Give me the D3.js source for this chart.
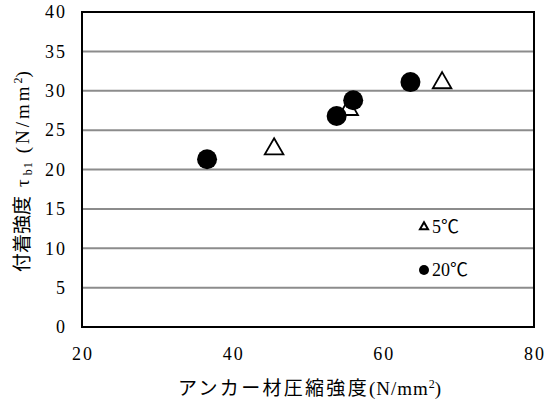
<!DOCTYPE html>
<html>
<head>
<meta charset="utf-8" />
<style>
  body { margin: 0; background: white; }
  svg { display: block; font-family: "Liberation Serif", "Noto Sans CJK JP", serif; }
</style>
<script src="https://cdnjs.cloudflare.com/ajax/libs/d3/7.8.5/d3.min.js"></script>
</head>
<body>
<div id="chart"></div>
<script>
// data
var xTicks = [20, 40, 60, 80];
var yTicks = [0, 5, 10, 15, 20, 25, 30, 35, 40];
var temp5X = [45.5, 55.4, 67.8];
var temp5Y = [22.6, 27.6, 31.0];
var temp20X = [36.6, 53.8, 56.0, 63.6];
var temp20Y = [21.3, 26.8, 28.8, 31.1];
var legendLabels = ["5℃", "20℃"];

var w = 551, h = 403;
var plotLeft = 82, plotRight = 534, plotTop = 12, plotBottom = 327;

var x = d3.scaleLinear().domain([20, 80]).range([plotLeft, plotRight]);
var y = d3.scaleLinear().domain([0, 40]).range([plotBottom, plotTop]);

var svg = d3.select("#chart").append("svg")
    .attr("width", w)
    .attr("height", h);

// gridlines
svg.append("g")
  .selectAll("line")
  .data(yTicks.slice(1, -1))
  .enter().append("line")
    .attr("x1", plotLeft).attr("x2", plotRight)
    .attr("y1", function (d) { return y(d); })
    .attr("y2", function (d) { return y(d); })
    .style("stroke", "#8c8c8c")
    .style("stroke-width", 2);

// plot border
svg.append("rect")
  .attr("x", plotLeft).attr("y", plotTop)
  .attr("width", plotRight - plotLeft).attr("height", plotBottom - plotTop)
  .style("fill", "none")
  .style("stroke", "black")
  .style("stroke-width", 2);

// y tick labels
svg.append("g")
  .selectAll("text")
  .data(yTicks)
  .enter().append("text")
    .attr("x", plotLeft - 15)
    .attr("y", function (d) { return y(d); })
    .attr("dy", "0.35em")
    .attr("text-anchor", "end")
    .style("font-size", "18px")
    .style("letter-spacing", "2px")
    .text(function (d) { return d; });

// x tick labels
svg.append("g")
  .selectAll("text")
  .data(xTicks)
  .enter().append("text")
    .attr("x", function (d) { return x(d) + 1; })
    .attr("y", 360)
    .attr("text-anchor", "middle")
    .style("font-size", "18px")
    .style("letter-spacing", "2px")
    .text(function (d) { return d; });

// x title
var xt = svg.append("text")
  .attr("x", 178).attr("y", 395)
  .style("font-size", "19px");
xt.append("tspan").style("letter-spacing", "2.3px").text("アンカー材圧縮強度");
xt.append("tspan").style("letter-spacing", "1px").text("(N/mm");
xt.append("tspan").attr("dy", -7).style("font-size", "12px").text("2");
xt.append("tspan").attr("dy", 7).text(")");

// y title
var yt = svg.append("text")
  .attr("transform", "translate(29,272) rotate(-90)")
  .style("font-size", "19px");
yt.append("tspan").text("付着強度");
yt.append("tspan").attr("dx", 9).text("τ");
yt.append("tspan").attr("dx", 4).attr("dy", 3).style("font-size", "12px").style("letter-spacing", "1px").text("b1");
yt.append("tspan").attr("dx", 8).attr("dy", -3).style("letter-spacing", "3px").text("(N/mm");
yt.append("tspan").attr("dy", -7).style("font-size", "12px").text("2");
yt.append("tspan").attr("dy", 7).text(")");

// 5℃ triangles
var tri = d3.symbol().type(d3.symbolTriangle).size(150);
svg.append("g")
  .selectAll("path")
  .data(temp5X)
  .enter().append("path")
    .attr("d", tri)
    .attr("transform", function (d, i) { return "translate(" + x(d) + "," + y(temp5Y[i]) + ")"; })
    .style("fill", "white")
    .style("stroke", "black")
    .style("stroke-width", 1.8);

// 20℃ circles
svg.append("g")
  .selectAll("circle")
  .data(temp20X)
  .enter().append("circle")
    .attr("cx", function (d) { return x(d); })
    .attr("cy", function (d, i) { return y(temp20Y[i]); })
    .attr("r", 10)
    .style("fill", "black");

// legend
svg.append("path")
  .attr("d", d3.symbol().type(d3.symbolTriangle).size(28))
  .attr("transform", "translate(424,227)")
  .style("fill", "white")
  .style("stroke", "black")
  .style("stroke-width", 2);
svg.append("circle")
  .attr("cx", 424).attr("cy", 270).attr("r", 5)
  .style("fill", "black");
svg.append("g")
  .selectAll("text")
  .data(legendLabels)
  .enter().append("text")
    .attr("x", 432)
    .attr("y", function (d, i) { return i === 0 ? 227 : 270; })
    .attr("dy", "0.35em")
    .style("font-size", "18px")
    .text(function (d) { return d; });
</script>
</body>
</html>
